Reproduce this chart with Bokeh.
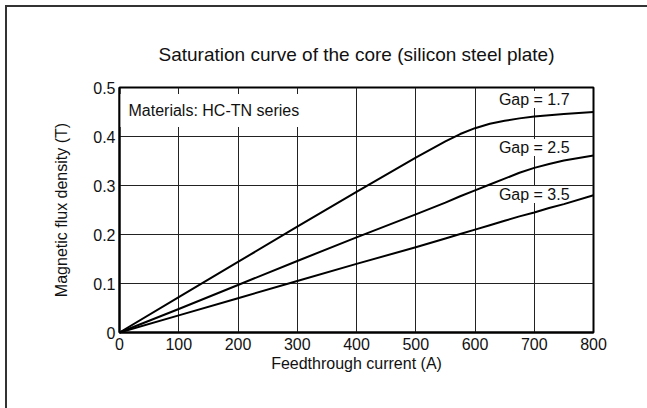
from bokeh.plotting import figure
from bokeh.models import FixedTicker, Label
from bokeh.embed import file_html
from bokeh.resources import INLINE

# ---- data ----
current = [0, 100, 200, 300, 400, 500, 550, 575, 600, 625, 650, 675, 700, 725, 750, 800]
gap_17 = [0, 0.072, 0.144, 0.216, 0.287, 0.357, 0.390, 0.405, 0.417, 0.426, 0.432, 0.437, 0.441, 0.4435, 0.446, 0.450]
gap_25 = [0, 0.048, 0.097, 0.146, 0.194, 0.241, 0.265, 0.278, 0.290, 0.302, 0.314, 0.326, 0.336, 0.344, 0.351, 0.361]
gap_35 = [0, 0.035, 0.070, 0.105, 0.140, 0.174, 0.192, 0.201, 0.210, 0.219, 0.228, 0.237, 0.245, 0.254, 0.262, 0.280]
series_names = ["Gap = 1.7", "Gap = 2.5", "Gap = 3.5"]
label_x = [700, 700, 700]
label_y = [0.4755, 0.3776, 0.2816]

x_ticks = [0, 100, 200, 300, 400, 500, 600, 700, 800]
y_ticks = [0, 0.1, 0.2, 0.3, 0.4, 0.5]
y_tick_labels = ["0", "0.1", "0.2", "0.3", "0.4", "0.5"]

FONT = "Liberation Sans"
INK = "#111111"

p = figure(
    frame_width=474, frame_height=245,
    min_border_left=119, min_border_right=54,
    min_border_top=87, min_border_bottom=76,
    x_range=(0, 800), y_range=(0, 0.5),
    output_backend="svg", toolbar_location=None,
    title="Saturation curve of the core (silicon steel plate)",
)
p.title.text_font = FONT
p.title.text_font_size = "19px"
p.title.text_font_style = "normal"
p.title.text_color = INK
p.title.align = "center"
p.title.standoff = 45

# outer picture frame (left and top edges visible, like the reference)
p.border_fill_alpha = 0
p.styles = {"box-shadow": "inset 5px 5px 0 0 #ffffff, inset 7px 7px 0 0 #333333"}

p.outline_line_color = "black"
p.outline_line_width = 2
p.outline_line_alpha = 1

for ax in (p.xaxis[0], p.yaxis[0]):
    ax.axis_line_color = "black"
    ax.axis_line_width = 2
    ax.major_tick_in = 0
    ax.major_tick_out = 0
    ax.minor_tick_line_color = None
    ax.major_label_text_font = FONT
    ax.major_label_text_font_size = "16px"
    ax.major_label_text_color = INK
    ax.axis_label_text_font = FONT
    ax.axis_label_text_font_size = "16px"
    ax.axis_label_text_font_style = "normal"
    ax.axis_label_text_color = INK

p.xaxis.ticker = FixedTicker(ticks=x_ticks)
p.yaxis.ticker = FixedTicker(ticks=y_ticks)
p.yaxis.major_label_overrides = {t: s for t, s in zip(y_ticks, y_tick_labels)}
p.xaxis.axis_label = "Feedthrough current (A)"
p.yaxis.axis_label = "Magnetic flux density (T)"
p.xaxis.major_label_standoff = 5
p.yaxis.major_label_standoff = 4
p.xaxis.axis_label_standoff = 2
p.yaxis.axis_label_standoff = 20

p.xgrid.ticker = FixedTicker(ticks=x_ticks)
p.ygrid.ticker = FixedTicker(ticks=y_ticks)
for g in (p.xgrid[0], p.ygrid[0]):
    g.grid_line_color = "#222222"
    g.grid_line_width = 1
    g.grid_line_alpha = 1

for ys in (gap_17, gap_25, gap_35):
    r = p.line(current, ys, line_color="black", line_width=2, line_join="round")
    r.level = "overlay"

# series labels with white background (hide grid lines behind them)
for name, lx, ly in zip(series_names, label_x, label_y):
    p.add_layout(Label(
        x=lx, y=ly, text=name, text_align="center", text_baseline="middle",
        text_font=FONT, text_font_size="16px", text_color=INK,
        background_fill_color="white", background_fill_alpha=1,
    ))

p.add_layout(Label(
    x=0, y=0.453, x_offset=1, text="Materials: HC-TN series",
    text_align="left", text_baseline="middle",
    text_font=FONT, text_font_size="16px", text_color=INK,
    background_fill_color="white", background_fill_alpha=1, padding=8,
))

open("out.html", "w").write(file_html(p, INLINE))
